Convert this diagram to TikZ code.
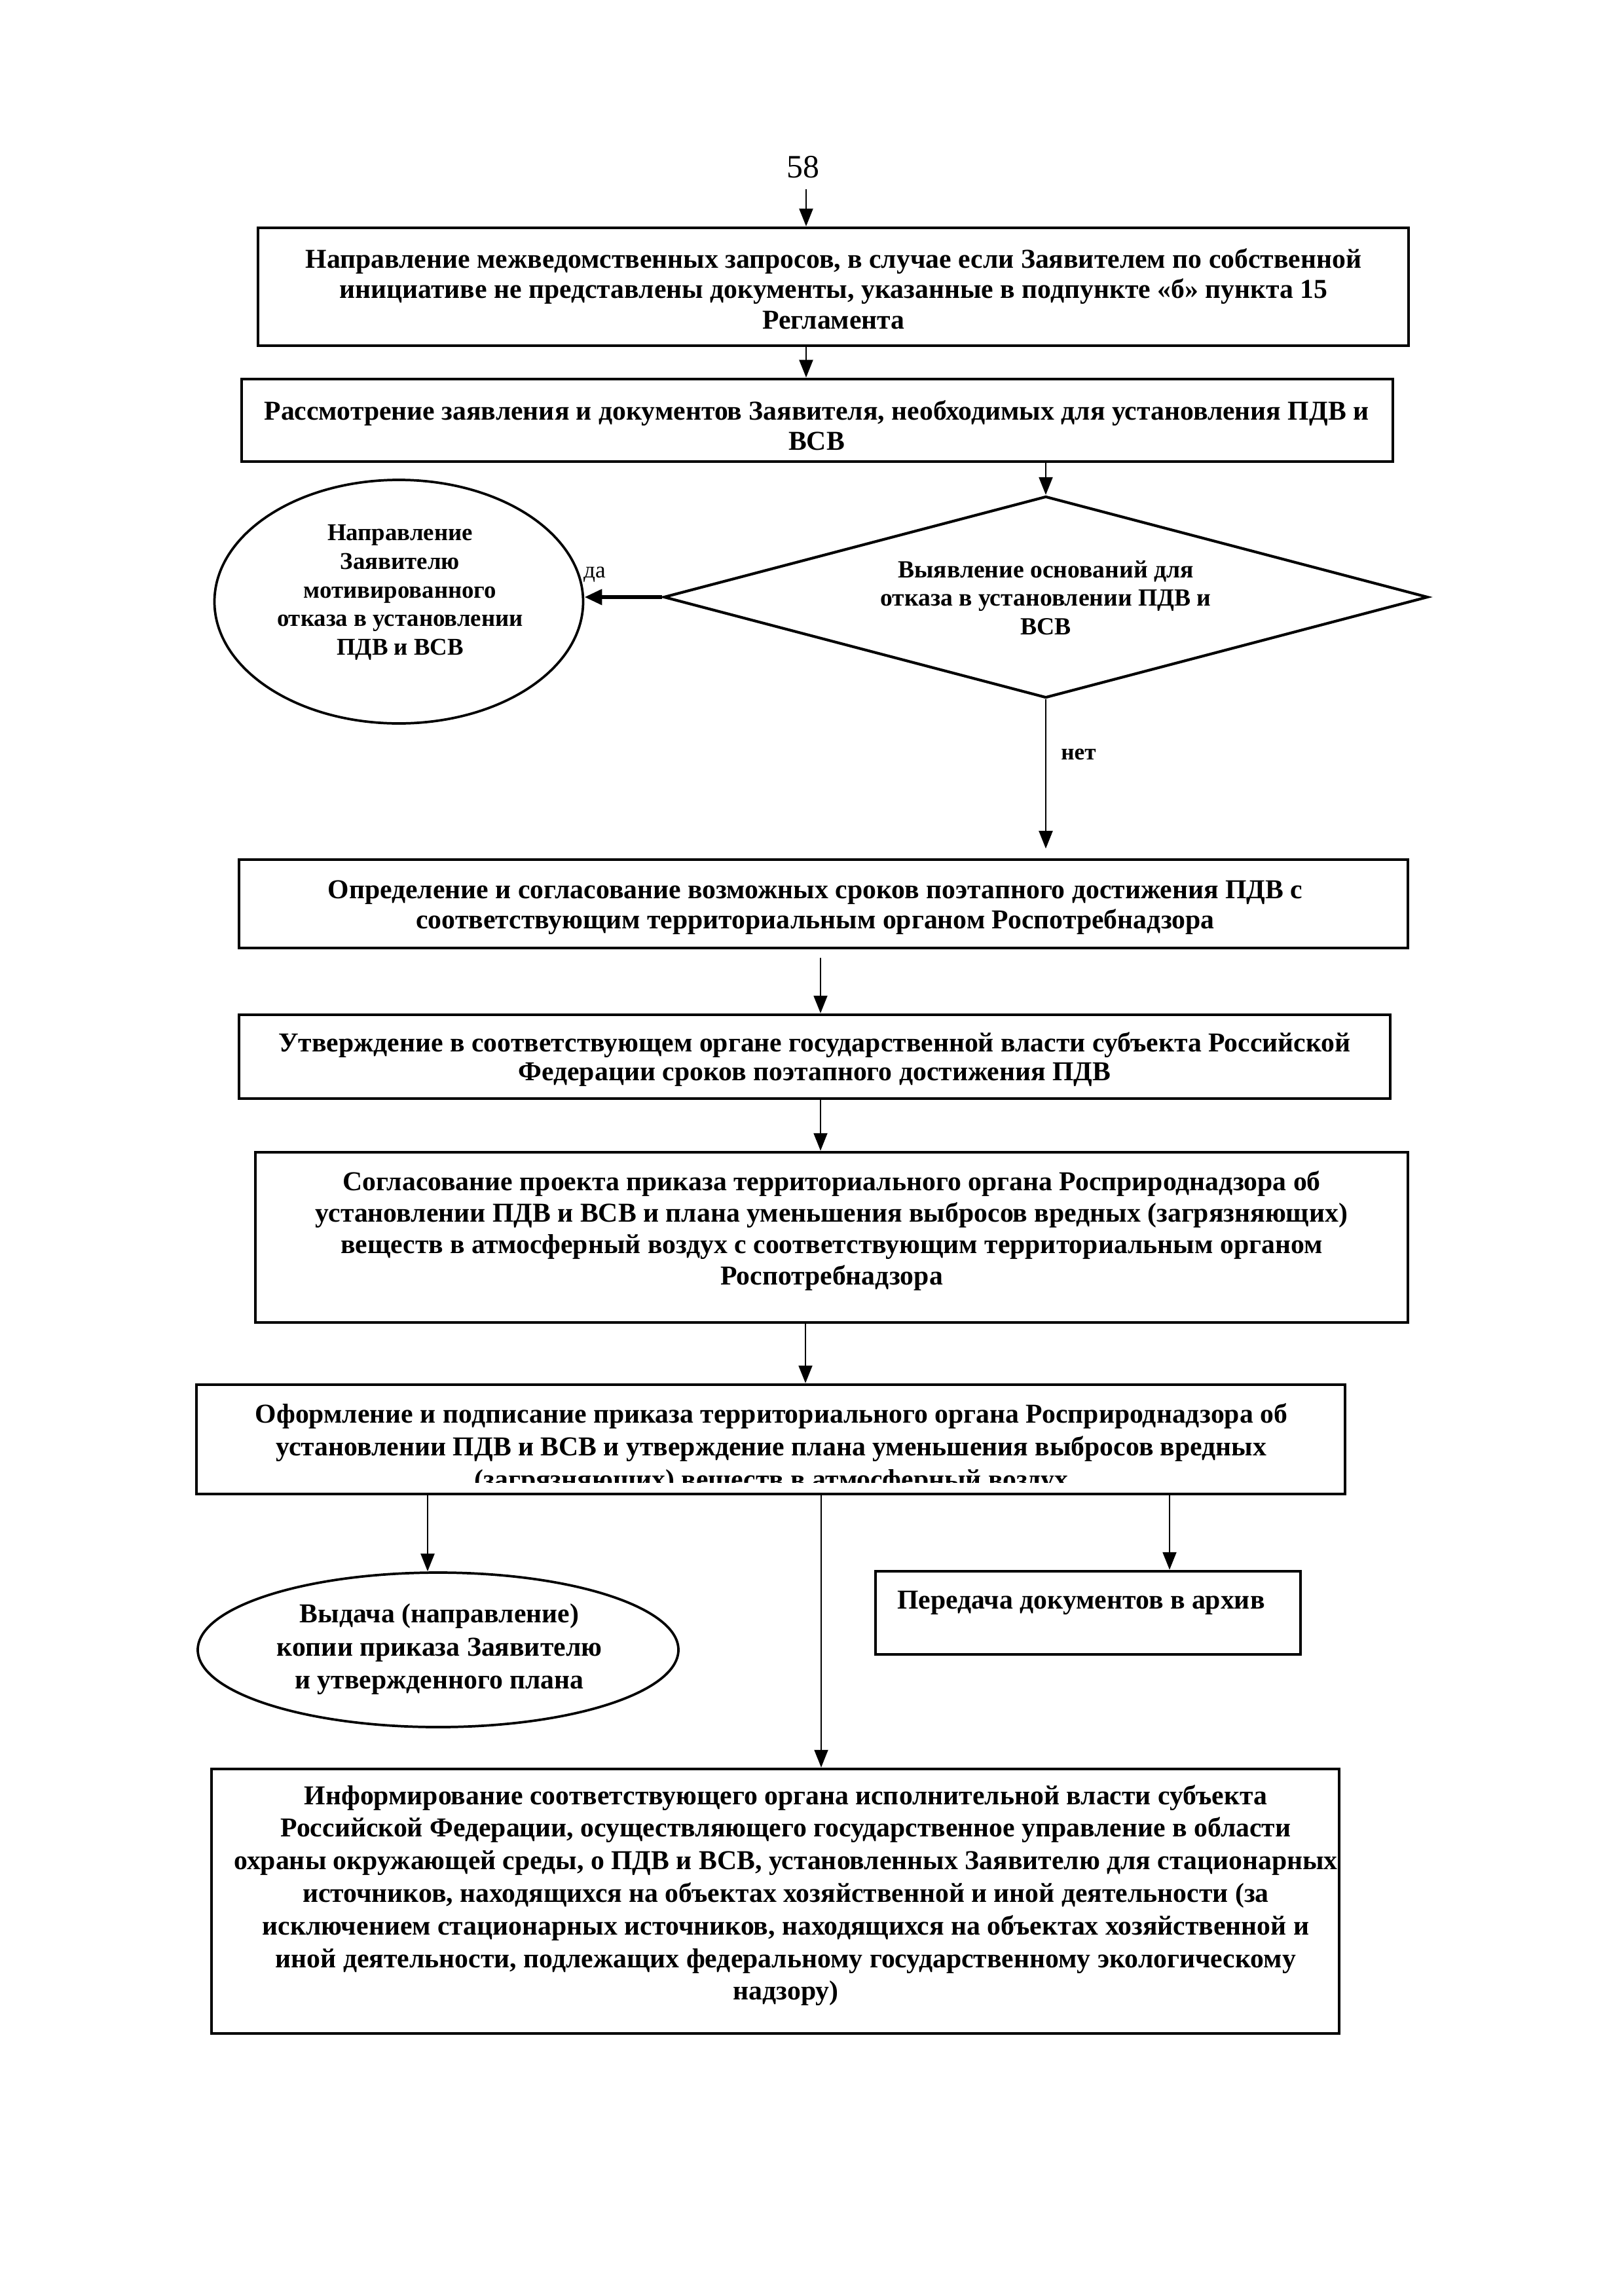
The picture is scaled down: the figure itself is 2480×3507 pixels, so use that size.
\documentclass[tikz,border=0pt]{standalone}
\usepackage{fontspec}
\setmainfont{Liberation Serif}
\usetikzlibrary{shapes.geometric,arrows.meta,fit}
\newcommand\pxu[1]{#1*0.0846774mm}
\begin{document}
\begin{tikzpicture}[x=0.0846774mm,y=-0.0846774mm,
  box/.style={draw,line width=1.1pt,inner sep=0pt},
  txt/.style={align=center,inner sep=0pt,font=\bfseries\fontsize{10.05}{11.2}\selectfont},
  arr/.style={-{Triangle[length=6.5pt,width=5pt]},line width=0.7pt},
  thickarr/.style={-{Triangle[length=6.5pt,width=5.5pt]},line width=1.6pt},
  oval/.style={draw,ellipse,line width=0.9pt,inner sep=0pt},
  lbl/.style={inner sep=0pt,font=\fontsize{8.5}{10}\selectfont}]
\useasboundingbox (0,0) rectangle (2480,3507);

% page number
\node[inner sep=0pt,font=\fontsize{12}{14}\selectfont] (n58) at (1226,255) {58};

% box 1
\node[box,fit={(394,348) (2151,528)}] (b1) {};
\node[txt] (t1) at (1273,441) {Направление межведомственных запросов, в случае если Заявителем по собственной\\
инициативе не представлены документы, указанные в подпункте «б» пункта 15\\
Регламента};

% box 2
\node[box,fit={(369,579) (2127,705)}] (b2) {};
\node[txt] (t2) at (1247,650) {Рассмотрение заявления и документов Заявителя, необходимых для установления ПДВ и\\ ВСВ};

% decision
\node[draw,diamond,line width=1pt,inner sep=0pt,minimum width=\pxu{1167},minimum height=\pxu{308}] (d) at (1597,912) {};
\node[txt,font=\bfseries\fontsize{9.07}{10.5}\selectfont] (td) at (1597,913) {Выявление оснований для\\ отказа в установлении ПДВ и\\ ВСВ};

% refusal ellipse
\node[oval,minimum width=\pxu{563},minimum height=\pxu{372}] (e1) at (609,919) {};
\node[txt,font=\bfseries\fontsize{8.87}{10.5}\selectfont] (te1) at (611,905) {Направление\\ Заявителю\\ мотивированного\\ отказа в установлении\\ ПДВ и ВСВ};

% box 3
\node[box,fit={(365,1313) (2150,1448)}] (b3) {};
\node[txt] (t3) at (1245,1386) {Определение и согласование возможных сроков поэтапного достижения ПДВ с\\ соответствующим территориальным органом Роспотребнадзора};

% box 4
\node[box,fit={(365,1550) (2123,1678)}] (b4) {};
\node[txt,font=\bfseries\fontsize{10.05}{10.6}\selectfont] (t4) at (1244,1618) {Утверждение в соответствующем органе государственной власти субъекта Российской\\ Федерации сроков поэтапного достижения ПДВ};

% box 5
\node[box,fit={(390,1760) (2150,2020)}] (b5) {};
\node[txt,font=\bfseries\fontsize{10.05}{11.6}\selectfont] (t5) at (1270,1880) {Согласование проекта приказа территориального органа Росприроднадзора об\\
установлении ПДВ и ВСВ и плана уменьшения выбросов вредных (загрязняющих)\\
веществ в атмосферный воздух с соответствующим территориальным органом\\
Роспотребнадзора};

% box 6 (last line cut off)
\node[box,fit={(300,2115) (2054,2282)}] (b6) {};
\begin{scope}
\clip (300,2115) rectangle (2054,2264);
\node[txt,font=\bfseries\fontsize{10.05}{12}\selectfont] (t6) at (1178,2213) {Оформление и подписание приказа территориального органа Росприроднадзора об\\
установлении ПДВ и ВСВ и утверждение плана уменьшения выбросов вредных\\
(загрязняющих) веществ в атмосферный воздух};
\end{scope}

% issue ellipse
\node[oval,minimum width=\pxu{734},minimum height=\pxu{236}] (e2) at (669,2520) {};
\node[txt,font=\bfseries\fontsize{10.05}{12.2}\selectfont] (te2) at (671,2519) {Выдача (направление)\\ копии приказа Заявителю\\ и утвержденного плана};

% archive box
\node[box,fit={(1337,2400) (1986,2527)}] (b7) {};
\node[txt] (t7) at (1651,2448) {Передача документов в архив};

% box 8
\node[box,fit={(323,2702) (2045,3106)}] (b8) {};
\node[txt,font=\bfseries\fontsize{10.05}{12}\selectfont] (t8) at (1200,2895) {Информирование соответствующего органа исполнительной власти субъекта\\
Российской Федерации, осуществляющего государственное управление в области\\
охраны окружающей среды, о ПДВ и ВСВ, установленных Заявителю для стационарных\\
источников, находящихся на объектах хозяйственной и иной деятельности (за\\
исключением стационарных источников, находящихся на объектах хозяйственной и\\
иной деятельности, подлежащих федеральному государственному экологическому\\
надзору)};

% connector columns
\coordinate (x1) at (1231,0);
\coordinate (x3) at (1253,0);
\coordinate (x4) at (1230,0);
\coordinate (x5) at (653,0);
\coordinate (x6) at (1254,0);
\coordinate (x7) at (1786,0);

% connectors
\draw[arr] ([yshift=-4pt]n58.south -| x1) -- (b1.north -| x1);
\draw[arr] (b1.south -| x1) -- (b2.north -| x1);
\draw[arr] (b2.south -| d) -- (d.north);
\draw[thickarr] (d.west) -- (d.west -| e1.east);
\node[lbl] (lda) at (908,878) {да};
\draw[arr,shorten >=3.5pt] (d.south) -- (d.south |- b3.north);
\node[lbl,font=\bfseries\fontsize{8.5}{10}\selectfont] (lnet) at (1647,1152) {нет};
\draw[arr,shorten <=3pt] (b3.south -| x3) -- (b4.north -| x3);
\draw[arr] (b4.south -| x3) -- (b5.north -| x3);
\draw[arr] (b5.south -| x4) -- (b6.north -| x4);
\draw[arr] (b6.south -| x5) -- (e2.north -| x5);
\draw[arr] (b6.south -| x6) -- (b8.north -| x6);
\draw[arr] (b6.south -| x7) -- (b7.north -| x7);
\end{tikzpicture}
\end{document}
